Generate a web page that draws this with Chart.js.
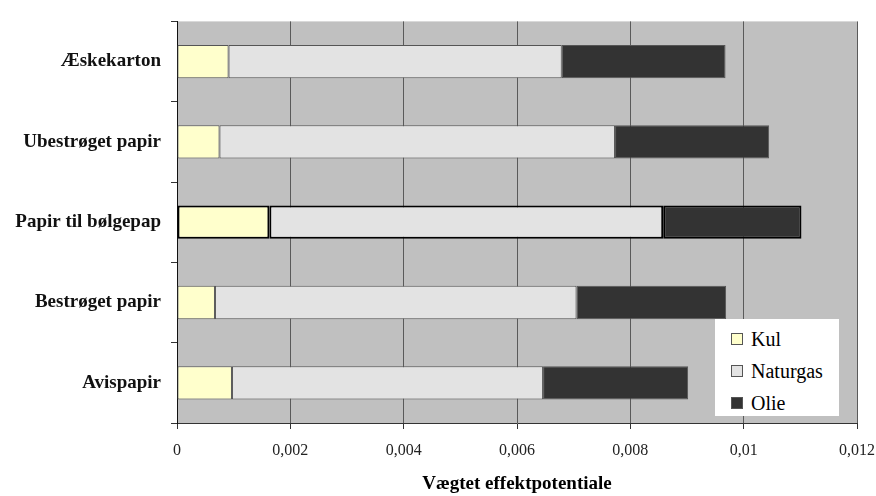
<!DOCTYPE html>
<html>
<head>
<meta charset="utf-8">
<script src="https://cdn.jsdelivr.net/npm/chart.js@4.4.0/dist/chart.umd.min.js"></script>
<style>
  body { margin: 0; background: #fff; }
  #wrap { position: relative; width: 876px; height: 496px; }
  #legend {
    position: absolute; left: 715px; top: 319px; width: 124px; height: 97px;
    background: #fff; font-family: "Liberation Serif", serif; font-size: 20px; color: #000;
  }
  #legend div { position: absolute; left: 16px; height: 20px; line-height: 20px; }
  #legend span.box {
    display: inline-block; width: 10px; height: 10px; border: 1px solid #555;
    margin-right: 8px; vertical-align: 1px;
  }
</style>
</head>
<body>
<div id="wrap">
  <canvas id="chart" width="876" height="496"></canvas>
  <div id="legend"></div>
</div>
<script>
var categories = ['Æskekarton', 'Ubestrøget papir', 'Papir til bølgepap', 'Bestrøget papir', 'Avispapir'];
var kul = [0.00091, 0.00075, 0.00163, 0.00067, 0.00097];
var naturgas = [0.00588, 0.00698, 0.00695, 0.00638, 0.00549];
var olie = [0.00289, 0.00272, 0.00244, 0.00264, 0.00256];
var xTicks = [0, 0.002, 0.004, 0.006, 0.008, 0.01, 0.012];

var colors = { Kul: '#ffffcc', Naturgas: '#e3e3e3', Olie: '#333333' };
// the middle bar is drawn with a heavier black outline in the original
var outline = ['#555555', '#555555', '#000000', '#555555', '#555555'];
var outlineW = [1, 1, 2, 1, 1];

function ds(label, data) {
  return {
    label: label,
    data: data,
    backgroundColor: colors[label],
    borderColor: outline,
    borderWidth: outlineW,
    borderSkipped: false,
    categoryPercentage: 1,
    barPercentage: 0.415
  };
}

// grey plot area like the old spreadsheet chart
var plotBg = {
  id: 'plotBg',
  beforeDraw: function(chart) {
    var a = chart.chartArea, c = chart.ctx;
    c.save();
    c.fillStyle = '#c0c0c0';
    c.fillRect(a.left, a.top, a.right - a.left, a.bottom - a.top);
    c.restore();
  }
};

var serif = '"Liberation Serif", "Times New Roman", serif';

var chart1 = document.getElementById('chart').getContext('2d');
var chert = new Chart(chart1, {
  type: 'bar',
  data: {
    labels: categories,
    datasets: [ds('Kul', kul), ds('Naturgas', naturgas), ds('Olie', olie)]
  },
  options: {
    indexAxis: 'y',
    responsive: false,
    animation: false,
    devicePixelRatio: 1,
    layout: { padding: { left: 0, right: 19, top: 13, bottom: 0 } },
    plugins: { legend: { display: false }, tooltip: { enabled: false } },
    scales: {
      x: {
        stacked: true,
        min: 0,
        max: 0.012,
        afterBuildTicks: function(scale) {
          scale.ticks = xTicks.map(function(v) { return { value: v }; });
        },
        afterFit: function(scale) {
          scale.height = 73;
          // let the last label hang into the right margin
          scale.paddingLeft = 0;
          scale.paddingRight = 0;
        },
        grid: { color: '#5a5a5a', lineWidth: 1, tickLength: 6, tickColor: '#333' },
        border: { color: '#333', width: 1 },
        ticks: {
          padding: 12,
          color: '#222',
          font: { family: serif, size: 16 },
          maxRotation: 0,
          callback: function(v) { return String(Number(v.toFixed(4))).replace('.', ','); }
        },
        title: {
          display: true,
          text: 'Vægtet effektpotentiale',
          color: '#000',
          font: { family: serif, size: 19, weight: 'bold' },
          padding: { top: 0, bottom: 1 }
        }
      },
      y: {
        stacked: true,
        afterFit: function(scale) { scale.width = 177; },
        grid: { drawOnChartArea: false, offset: true, tickLength: 6, tickColor: '#333' },
        border: { color: '#111', width: 1 },
        ticks: {
          padding: 10,
          color: '#111',
          font: { family: serif, size: 19, weight: 'bold' }
        }
      }
    }
  },
  plugins: [plotBg]
});

// legend box in the lower right corner of the plot
var leg = document.getElementById('legend');
chert.data.datasets.forEach(function(d, i) {
  var item = document.createElement('div');
  item.style.top = (10 + i * 32) + 'px';
  item.innerHTML = '<span class="box" style="background:' + d.backgroundColor + '"></span>' + d.label;
  leg.appendChild(item);
});
</script>
</body>
</html>
